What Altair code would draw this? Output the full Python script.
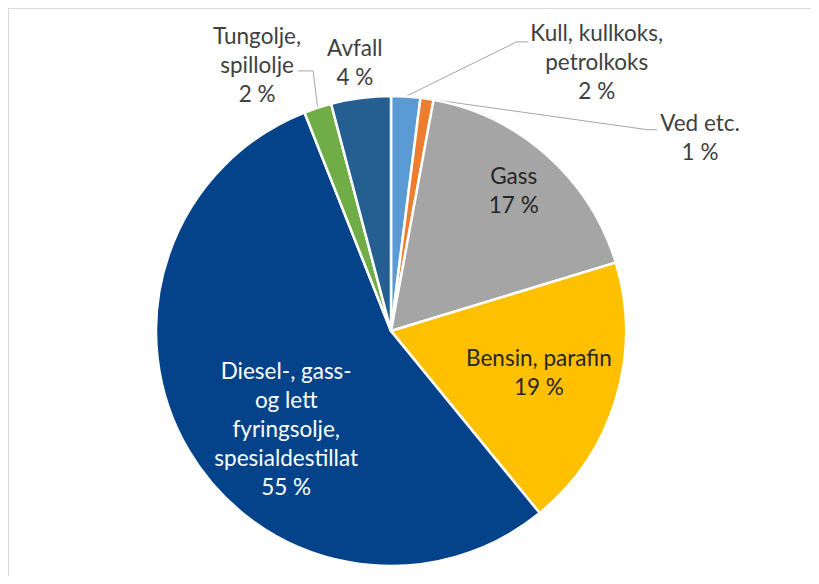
import math
import altair as alt
import pandas as pd

# ---- data ----
categories = [
    "Kull, kullkoks, petrolkoks",
    "Ved etc.",
    "Gass",
    "Bensin, parafin",
    "Diesel-, gass- og lett fyringsolje, spesialdestillat",
    "Tungolje, spillolje",
    "Avfall",
]
values = [2.0, 0.9, 17.4, 18.8, 54.9, 1.9, 4.1]
label_names = [
    "Kull, kullkoks,\npetrolkoks",
    "Ved etc.",
    "Gass",
    "Bensin, parafin",
    "Diesel-, gass-\nog lett\nfyringsolje,\nspesialdestillat",
    "Tungolje,\nspillolje",
    "Avfall",
]

# ---- styles / layout ----
colors = ["#5b9bd5", "#ed7d31", "#a5a5a5", "#ffc000", "#044389", "#70ad47", "#255e91"]
text_colors = ["#404040", "#404040", "#262626", "#262626", "#ffffff", "#404040", "#404040"]
# label block centre: (angle in degrees clockwise from north, distance from pie centre in px)
label_pos = [(37.5, 338), (58.1, 364), (41.3, 186), (106.2, 154), (226.7, 144), (333.2, 297), (352.3, 270)]
PAD = {"left": 2, "top": 2, "right": 0, "bottom": 0}
W, H = 801, 566
CX, CY, R = 381, 321, 235
FONT = "Lato"
FS = 22.5
LH = 29

total = sum(values)
rows = []
cum = 0.0
for i, (c, v) in enumerate(zip(categories, values)):
    mid = (cum + v / 2) / total * 2 * math.pi
    cum += v
    text = f"{label_names[i]}\n{round(v)} %"
    n = text.count("\n") + 1
    ang, dist = label_pos[i]
    dx = dist * math.sin(math.radians(ang))
    dy = -dist * math.cos(math.radians(ang)) - (n - 1) / 2 * LH  # first line position
    rows.append({
        "idx": i,
        "category": c,
        "value": v,
        "label": text,
        "la": math.atan2(dx, -dy),
        "lr": math.hypot(dx, dy),
        "tc": text_colors[i],
        "mid": mid,
        "cx": CX + dist * math.sin(math.radians(ang)),
        "cy": CY - dist * math.cos(math.radians(ang)),
    })
df = pd.DataFrame(rows)

pie = alt.Chart(df).mark_arc(outerRadius=R, stroke="white", strokeWidth=2.5).encode(
    theta=alt.Theta("value:Q", stack=True),
    order=alt.Order("idx:Q"),
    color=alt.Color("category:N", scale=alt.Scale(domain=categories, range=colors), legend=None),
    x=alt.value(CX),
    y=alt.value(CY),
)

labels = alt.Chart(df).mark_text(
    font=FONT, fontSize=FS, lineHeight=LH, lineBreak="\n", align="center", baseline="middle"
).encode(
    theta=alt.Theta("la:Q", scale=None),
    radius=alt.Radius("lr:Q", scale=None),
    text="label:N",
    color=alt.Color("tc:N", scale=None),
    x=alt.value(CX),
    y=alt.value(CY),
)

# leader lines: from slice edge (mid angle at R) to an elbow near the label
leader_specs = {  # idx: (elbow offset from label centre, end offset from label centre)
    0: ((-80, -21), (-69, -21)),
    1: ((-53, -9), (-43, -9)),
    5: ((56, 5), (41, 5)),
}
lrows = []
for i, (elbow, end) in leader_specs.items():
    r = rows[i]
    px = CX + R * math.sin(r["mid"])
    py = CY - R * math.cos(r["mid"])
    lrows += [
        {"g": i, "o": 0, "px": px, "py": py},
        {"g": i, "o": 1, "px": r["cx"] + elbow[0], "py": r["cy"] + elbow[1]},
        {"g": i, "o": 2, "px": r["cx"] + end[0], "py": r["cy"] + end[1]},
    ]
ldf = pd.DataFrame(lrows)
leaders = alt.Chart(ldf).mark_line(color="#a6a6a6", strokeWidth=1).encode(
    x=alt.X("px:Q", scale=None),
    y=alt.Y("py:Q", scale=None),
    detail="g:N",
    order="o:Q",
)

frame_top = alt.Chart(df).mark_rule(color="#d9d9d9", strokeWidth=2).encode(
    x=alt.value(-2), x2=alt.value(W + 6), y=alt.value(-2)
)
frame_left = alt.Chart(df).mark_rule(color="#d9d9d9", strokeWidth=2).encode(
    x=alt.value(-2), y=alt.value(-2), y2=alt.value(H)
)

chart = alt.layer(frame_top, frame_left, leaders, pie, labels).resolve_scale(
    theta="independent"
).properties(
    width=W, height=H, padding=PAD, autosize=alt.AutoSizeParams(type="none")
).configure_view(stroke=None)

chart.save("out.html", embed_options={"renderer": "svg", "actions": False})
